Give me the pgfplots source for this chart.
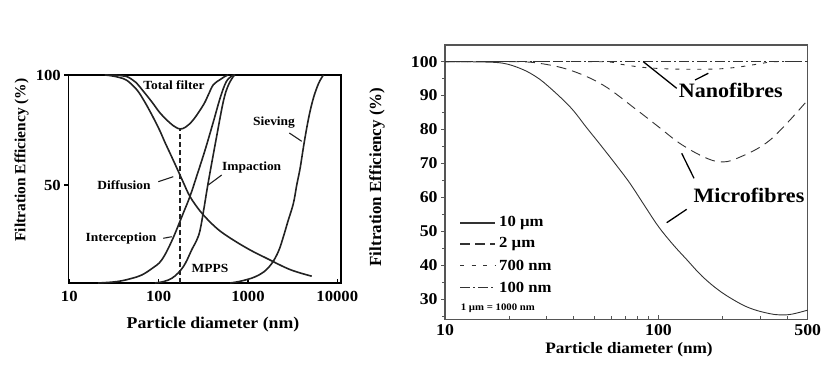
\documentclass[border=0pt]{standalone}
\usepackage{fontspec}
\setmainfont{Liberation Serif}[FakeStretch=1.08]
\newfontfamily\rotfont{Liberation Serif}
\usepackage{pgfplots}
\pgfplotsset{compat=1.18}
\definecolor{lc}{HTML}{222222}
\definecolor{rc}{HTML}{333333}
\definecolor{fc}{HTML}{555555}
\pgfplotsset{
  lcurve/.style={line width=1.6bp, lc, smooth, tension=0.6, no marks},
  rcurve/.style={line width=0.9bp, rc, smooth, tension=0.6, no marks},
}
\begin{document}
\begin{tikzpicture}[x=1bp,y=1bp]
\useasboundingbox (0,0) rectangle (834,381);
% ---------------- left panel ----------------
\begin{axis}[at={(68.3bp,98bp)}, anchor=south west, scale only axis,
  width=272.7bp, height=208bp,
  xmode=log, xmin=9.75, xmax=11000, ymin=5.5, ymax=100,
  xtick={10,100,1000,10000}, xticklabels={10,100,1000,10000},
  ytick={50,100}, yticklabels={50,100},
  xminorticks=false, yminorticks=false,
  xtick pos=bottom, ytick pos=left,
  xtick align=inside, ytick align=outside,
  major tick length=4bp,
  tick style={line width=1.2bp, black},
  axis line style={line width=1.5bp, black},
  tick label style={font=\fontsize{15.5}{16}\selectfont\bfseries},
  xticklabel style={yshift=-5bp},
  clip=true,
]
% Diffusion
\addplot[lcurve] coordinates {(25,100) (30,99.6) (36,98.9) (44,97.6) (57,93.3) (68,88.6) (80,83.5) (92,78.8) (104,74.4) (118,69.3) (134,64.5) (160,57.7) (188,51.4) (225,44.7) (291,38.2) (377,33.2) (488,29.1) (687,25.0) (1057,20.5) (1622,16.7) (2960,11.6) (5170,8.6)};
% Total filter
\addplot[lcurve] coordinates {(25,100) (37,99.8) (44,99.3) (55,96.8) (67.5,92.6) (85,87.5) (104,82.7) (134,78.2) (155,76.3) (174,75.5) (200,76.3) (245,79.7) (318,86.5) (360,91.0) (410,95.6) (488,97.9) (555,99.4) (600,100)};
% Interception
\addplot[lcurve] coordinates {(21,5.5) (30,5.9) (38.6,6.5) (50,7.6) (64.5,9.1) (85,12.2) (108,15.9) (140,24.5) (189,37.3) (225,45) (267,54.1) (331,65.9) (409,78.6) (488,89.5) (569,96.8) (658,99.5) (700,100)};
% Impaction
\addplot[lcurve] coordinates {(91,5.5) (115,6.2) (140,7.6) (165,10) (189,12.9) (210,16.3) (234,20.5) (267,25) (291,29.5) (322,39.5) (360,51.4) (447,72.3) (530,88) (598,95) (687,99.4) (720,100)};
% Sieving
\addplot[lcurve] coordinates {(632,5.5) (800,6.2) (1000,7.2) (1200,8.3) (1500,10.5) (1850,14.4) (2200,20) (2490,26.5) (2800,33.5) (3225,41.7) (3514,50) (3830,57.5) (4170,67) (4550,76) (4955,83.5) (5400,89.5) (5890,94.1) (6400,97.5) (6990,100)};
% MPPS
\addplot[line width=1.3bp, lc, dash pattern=on 5bp off 3bp, sharp plot, no marks] coordinates {(174,5.5) (174,75.5)};
\end{axis}
% left annotations
\begin{scope}[every node/.style={font=\fontsize{12.5}{13}\selectfont\bfseries, inner sep=0pt}]
\node at (174,296) {Total filter};
\node at (274,258) {Sieving};
\node at (251.7,213) {Impaction};
\node at (124,196) {Diffusion};
\node at (121,142.7) {Interception};
\node at (210,112.7) {MPPS};
\end{scope}
\draw[line width=1.1bp, lc] (289.3,248)--(301.7,239.7);
\draw[line width=1.1bp, lc] (221.7,206)--(208.3,196);
\draw[line width=1.1bp, lc] (158.3,199.3)--(173.3,204.3);
\draw[line width=1.1bp, lc] (163.3,142.7)--(171.7,144.3);
\node[rotate=90, font=\rotfont\bfseries\fontsize{15.5}{16}\selectfont, inner sep=0pt] at (21.5,221) {Filtration Efficiency (\%)};
\node[font=\fontsize{16.5}{17}\selectfont\bfseries, inner sep=0pt] at (213,56) {Particle diameter (nm)};
% ---------------- right panel ----------------
\begin{axis}[at={(445bp,61.7bp)}, anchor=south west, scale only axis,
  width=362.7bp, height=274.3bp,
  xmode=log, xmin=10, xmax=500, ymin=24.1, ymax=104.9,
  xtick={10,100,500}, xticklabels={10,100,500},
  minor xtick={20,30,40,50,60,70,80,90,200,300,400},
  ytick={30,40,50,60,70,80,90,100},
  minor ytick={25,35,45,55,65,75,85,95},
  /pgf/number format/assume math mode=true,
  xtick pos=bottom, ytick pos=left,
  xtick align=inside, ytick align=outside,
  major tick length=4bp, minor tick length=3bp,
  tick style={line width=0.9bp, fc},
  axis line style={line width=1.1bp, fc},
  tick label style={font=\fontsize{16.5}{17}\selectfont\bfseries},
  xticklabel style={yshift=-2bp},
]
% 10 um
\addplot[rcurve] coordinates {(10,100) (15,99.9) (18.8,99.5) (22.5,98.0) (26,96) (30,93.1) (38.5,86.7) (46,80.6) (55,74.5) (64,69.2) (73.6,64.1) (86,57.6) (100,51.4) (117,46.1) (136,41.6) (160,36.8) (194,32.4) (240,28.8) (279,27.0) (330,25.8) (370,25.4) (420,25.6) (500,26.8)};
% 2 um
\addplot[rcurve, dash pattern=on 10bp off 6bp] coordinates {(10,100) (20,100) (27,99.6) (38.5,97.5) (55,93.1) (79,85.8) (100,80.8) (126,75.9) (162,72.0) (194,70.5) (233,71.5) (333,76.9) (500,88.7)};
% 700 nm
\addplot[rcurve, dash pattern=on 4bp off 7bp] coordinates {(10,100) (50,100) (65,99.3) (85,98.3) (120,97.8) (180,97.8) (230,98.3) (300,99.4) (350,100) (500,100)};
% 100 nm
\addplot[rcurve, line width=1.1bp, dash pattern=on 10bp off 3bp on 2bp off 3bp, sharp plot] coordinates {(10,100) (500,100)};
\end{axis}
% right annotations
\node[font=\fontsize{20.5}{21}\selectfont\bfseries, inner sep=0pt] at (730.8,291) {Nanofibres};
\node[font=\fontsize{20.5}{21}\selectfont\bfseries, inner sep=0pt] at (749,186) {Microfibres};
\draw[line width=1.3bp, black] (643.3,319.3)--(676.7,292.7);
\draw[line width=1.3bp, black] (695,301)--(708.3,307.7);
\draw[line width=1.3bp, black] (681.7,227.7)--(694,202.7);
\draw[line width=1.3bp, black] (666.7,158.3)--(686.7,171.7);
% legend
\draw[line width=1.1bp, rc] (460,158)--(495,158);
\draw[line width=1.1bp, rc, dash pattern=on 10bp off 5bp] (460,137)--(495,137);
\draw[line width=1.1bp, rc, dash pattern=on 4bp off 7.5bp] (460,115.5)--(495,115.5);
\draw[line width=1.1bp, rc, dash pattern=on 10bp off 3bp on 2bp off 3bp] (460,93.5)--(495,93.5);
\begin{scope}[every node/.style={font=\fontsize{15.5}{16}\selectfont\bfseries, inner sep=0pt, anchor=west}]
\node at (499,158) {10 µm};
\node at (499,137) {2 µm};
\node at (499,115.5) {700 nm};
\node at (499,93.5) {100 nm};
\end{scope}
\node[font=\fontsize{10}{11}\selectfont\bfseries, inner sep=0pt, anchor=west] at (460.7,73) {1 µm = 1000 nm};
\node[rotate=90, font=\rotfont\bfseries\fontsize{17}{18}\selectfont, inner sep=0pt] at (377,204) {Filtration Efficiency (\%)};
\node[font=\fontsize{16}{17}\selectfont\bfseries, inner sep=0pt] at (629,31) {Particle diameter (nm)};
\end{tikzpicture}
\end{document}
